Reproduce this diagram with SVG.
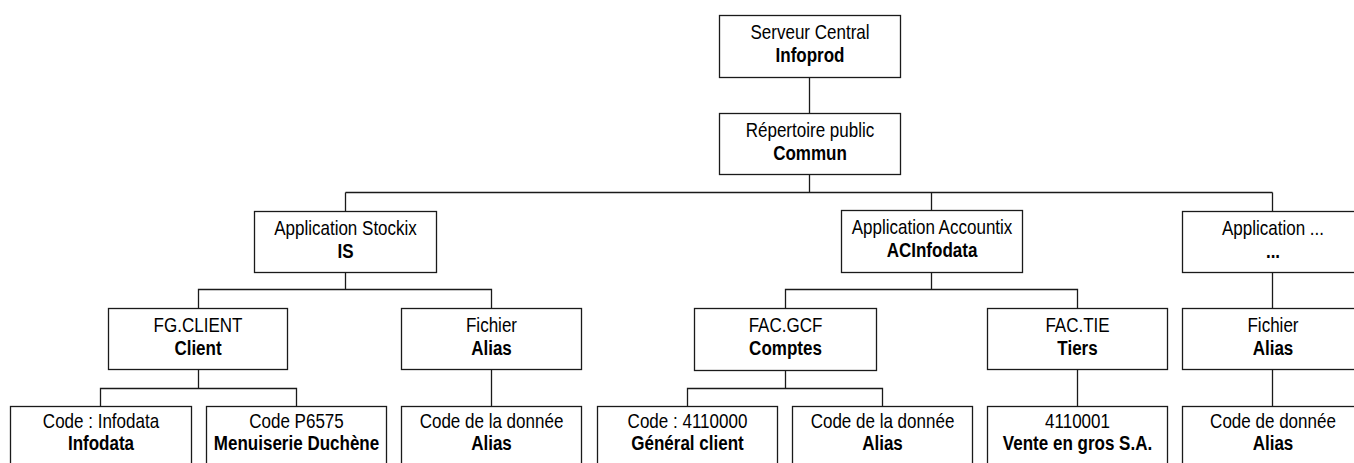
<svg xmlns="http://www.w3.org/2000/svg" width="1354" height="463" viewBox="0 0 1354 463">
<style>
rect{fill:#fff;stroke:#1a1a1a;stroke-width:1.3}
.c path{fill:none;stroke:#1a1a1a;stroke-width:1.3}
text{font-family:"Liberation Sans",Arial,sans-serif;font-size:20.5px;fill:#000;text-anchor:middle}
.b{font-weight:bold}
</style>
<rect x="0" y="0" width="1354" height="463" style="fill:#fff;stroke:none"/>
<g class="c" id="connectors">
<path d="M809.5 77V113M809.5 174V192.5M345.5 192.5H1272.5M345.5 192.5V211M931.5 192.5V210M1272.5 192.5V211"/>
<path d="M345.5 272V289.5M198.5 308V289.5H491.5V308"/>
<path d="M931.5 272V289.5M785.5 308V289.5H1077.5V308"/>
<path d="M1272.5 272V308"/>
<path d="M198.5 369V388.5M100.5 406V388.5H296.5V406"/>
<path d="M491.5 369V406"/>
<path d="M785.5 370V388.5M687.5 406V388.5H882.5V406"/>
<path d="M1077.5 369V406"/>
<path d="M1272.5 369V406"/>
</g>
<g id="serveur"><rect x="719.5" y="15.5" width="181" height="62"/><g transform="matrix(0.83 0 0 1 810 0)"><text y="39">Serveur Central</text><text class="b" y="62">Infoprod</text></g></g>
<g id="repertoire"><rect x="719.5" y="113.5" width="181" height="61"/><g transform="matrix(0.83 0 0 1 810 0)"><text y="137">Répertoire public</text><text class="b" y="160">Commun</text></g></g>
<g id="stockix"><rect x="254.5" y="211.5" width="182" height="61"/><g transform="matrix(0.83 0 0 1 345.5 0)"><text y="235">Application Stockix</text><text class="b" y="258">IS</text></g></g>
<g id="accountix"><rect x="841.5" y="210.5" width="181" height="62"/><g transform="matrix(0.83 0 0 1 932 0)"><text y="234">Application Accountix</text><text class="b" y="257">ACInfodata</text></g></g>
<g id="app-autre"><rect x="1182.5" y="211.5" width="181" height="61"/><g transform="matrix(0.83 0 0 1 1273 0)"><text y="235">Application ...</text><text class="b" y="258">...</text></g></g>
<g id="fgclient"><rect x="108.5" y="308.5" width="179" height="61"/><g transform="matrix(0.83 0 0 1 198 0)"><text y="332">FG.CLIENT</text><text class="b" y="355">Client</text></g></g>
<g id="fichier1"><rect x="401.5" y="308.5" width="180" height="61"/><g transform="matrix(0.83 0 0 1 491.5 0)"><text y="332">Fichier</text><text class="b" y="355">Alias</text></g></g>
<g id="facgcf"><rect x="694.5" y="308.5" width="182" height="62"/><g transform="matrix(0.83 0 0 1 785.5 0)"><text y="332">FAC.GCF</text><text class="b" y="355">Comptes</text></g></g>
<g id="factie"><rect x="987.5" y="308.5" width="180" height="61"/><g transform="matrix(0.83 0 0 1 1077.5 0)"><text y="332">FAC.TIE</text><text class="b" y="355">Tiers</text></g></g>
<g id="fichier3"><rect x="1182.5" y="308.5" width="181" height="61"/><g transform="matrix(0.83 0 0 1 1273 0)"><text y="332">Fichier</text><text class="b" y="355">Alias</text></g></g>
<g id="leaf1"><rect x="10.5" y="406.5" width="181" height="64"/><g transform="matrix(0.83 0 0 1 101 0)"><text y="428">Code : Infodata</text><text class="b" y="450">Infodata</text></g></g>
<g id="leaf2"><rect x="206.5" y="406.5" width="180" height="64"/><g transform="matrix(0.83 0 0 1 296.5 0)"><text y="428">Code P6575</text><text class="b" y="450">Menuiserie Duchène</text></g></g>
<g id="leaf3"><rect x="401.5" y="406.5" width="180" height="64"/><g transform="matrix(0.83 0 0 1 491.5 0)"><text y="428">Code de la donnée</text><text class="b" y="450">Alias</text></g></g>
<g id="leaf4"><rect x="597.5" y="406.5" width="180" height="64"/><g transform="matrix(0.83 0 0 1 687.5 0)"><text y="428">Code : 4110000</text><text class="b" y="450">Général client</text></g></g>
<g id="leaf5"><rect x="792.5" y="406.5" width="180" height="64"/><g transform="matrix(0.83 0 0 1 882.5 0)"><text y="428">Code de la donnée</text><text class="b" y="450">Alias</text></g></g>
<g id="leaf6"><rect x="987.5" y="406.5" width="180" height="64"/><g transform="matrix(0.83 0 0 1 1077.5 0)"><text y="428">4110001</text><text class="b" y="450">Vente en gros S.A.</text></g></g>
<g id="leaf7"><rect x="1182.5" y="406.5" width="181" height="64"/><g transform="matrix(0.83 0 0 1 1273 0)"><text y="428">Code de donnée</text><text class="b" y="450">Alias</text></g></g>
</svg>
